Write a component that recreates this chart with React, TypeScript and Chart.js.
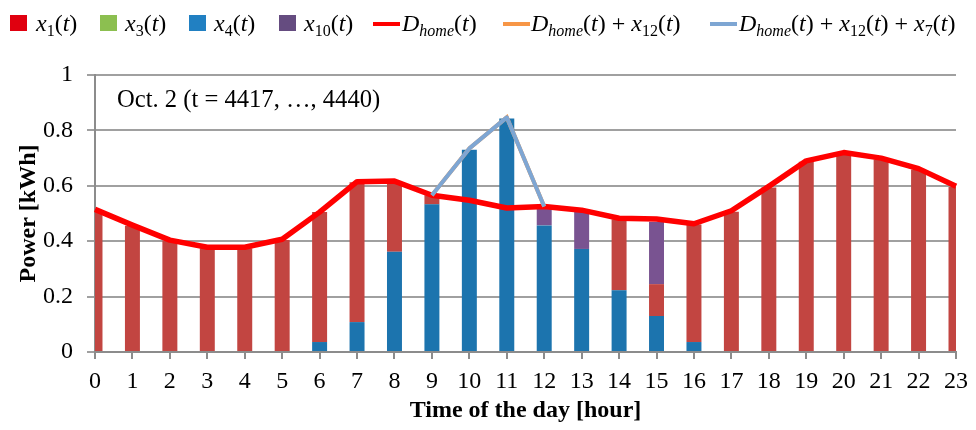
import React, { useEffect, useRef } from 'react';
import { Chart, registerables } from 'chart.js';

Chart.register(...registerables);

// ---- data ----
const hours = ['0','1','2','3','4','5','6','7','8','9','10','11','12','13','14','15','16','17','18','19','20','21','22','23'];
const yTickLabels = ['0', '0.2', '0.4', '0.6', '0.8', '1'];

const x1 = [0.512, 0.456, 0.402, 0.375, 0.375, 0.404, 0.469, 0.505, 0.25, 0.033, 0, 0, 0, 0, 0.256, 0.115, 0.424, 0.506, 0.594, 0.687, 0.717, 0.695, 0.659, 0.596];
const x3 = [0, 0, 0, 0, 0, 0, 0, 0, 0, 0, 0, 0, 0, 0, 0, 0, 0, 0, 0, 0, 0, 0, 0, 0];
const x4 = [0, 0, 0, 0, 0, 0, 0.036, 0.108, 0.362, 0.533, 0.73, 0.843, 0.457, 0.372, 0.223, 0.13, 0.036, 0, 0, 0, 0, 0, 0, 0];
const x10 = [0, 0, 0, 0, 0, 0, 0, 0, 0, 0, 0, 0, 0.066, 0.136, 0, 0.225, 0, 0, 0, 0, 0, 0, 0, 0];
const dHome = [0.515, 0.458, 0.404, 0.378, 0.378, 0.407, 0.505, 0.615, 0.617, 0.566, 0.548, 0.52, 0.525, 0.512, 0.483, 0.48, 0.463, 0.51, 0.598, 0.69, 0.72, 0.7, 0.662, 0.598];
const dHomeX12 = [null, null, null, null, null, null, null, null, null, 0.566, 0.735, 0.847, 0.525, null, null, null, null, null, null, null, null, null, null, null];
const dHomeX12X7 = [null, null, null, null, null, null, null, null, null, 0.566, 0.735, 0.847, 0.525, null, null, null, null, null, null, null, null, null, null, null];

const annotation = 'Oct. 2 (t = 4417, …, 4440)';

// ---- styles ----
const FONT = "'Liberation Serif', 'Times New Roman', serif";
const C_RED_BAR = '#C24541';
const C_GREEN_BAR = '#8CBF50';
const C_BLUE_BAR = '#1C74AE';
const C_PURPLE_BAR = '#795391';
const C_RED_LINE = '#FF0000';
const C_ORANGE_LINE = '#F79646';
const C_BLUE_LINE = '#7EA6D3';
const GRID = '#A0A0A0';
const AXIS = '#8C8C8C';

const It = ({ children }: any) => <span style={{ fontStyle: 'italic' }}>{children}</span>;
const Sub = ({ children, italic }: any) => (
  <span style={{ fontSize: 16, position: 'relative', top: 5, fontStyle: italic ? 'italic' : 'normal' }}>{children}</span>
);

const textStyle = (left: number, top: number, size = 24): React.CSSProperties => ({
  position: 'absolute', left, top, fontFamily: FONT, fontSize: size, lineHeight: '24px', color: '#000', whiteSpace: 'nowrap',
});

const Swatch = ({ left, color }: any) => (
  <div style={{ position: 'absolute', left, top: 15, width: 17, height: 16, background: color }} />
);
const LineMark = ({ left, color }: any) => (
  <div style={{ position: 'absolute', left, top: 22, width: 27, height: 4, background: color }} />
);

const DHomeText = () => (
  <>
    <It>D</It><Sub italic>home</Sub>(<It>t</It>)
  </>
);

export default function App() {
  const canvasRef = useRef<HTMLCanvasElement | null>(null);

  useEffect(() => {
    const ctx = canvasRef.current!;
    const barCommon = { type: 'bar' as const, stack: 'bars', borderWidth: 0, categoryPercentage: 1, barPercentage: 0.4, clip: 0 };
    const chart = new Chart(ctx, {
      type: 'bar',
      data: {
        labels: hours,
        datasets: [
          { ...barCommon, label: 'x4(t)', data: x4, backgroundColor: C_BLUE_BAR, order: 10 },
          { ...barCommon, label: 'x1(t)', data: x1, backgroundColor: C_RED_BAR, order: 11 },
          { ...barCommon, label: 'x3(t)', data: x3, backgroundColor: C_GREEN_BAR, order: 12 },
          { ...barCommon, label: 'x10(t)', data: x10, backgroundColor: C_PURPLE_BAR, order: 13 },
          { type: 'line', label: 'Dhome(t)', data: dHome, stack: 'l1', borderColor: C_RED_LINE, borderWidth: 5.5, pointRadius: 0, tension: 0, order: 2, borderJoinStyle: 'round' } as any,
          { type: 'line', label: 'Dhome(t) + x12(t)', data: dHomeX12, stack: 'l2', borderColor: C_ORANGE_LINE, borderWidth: 4, pointRadius: 0, tension: 0, order: 1 } as any,
          { type: 'line', label: 'Dhome(t) + x12(t) + x7(t)', data: dHomeX12X7, stack: 'l3', borderColor: C_BLUE_LINE, borderWidth: 4, pointRadius: 0, tension: 0, order: 0, borderJoinStyle: 'round' } as any,
        ],
      },
      options: {
        responsive: false,
        animation: false,
        events: [],
        layout: { padding: { top: 75, right: 15, left: 0, bottom: 0 } },
        plugins: { legend: { display: false }, tooltip: { enabled: false } },
        scales: {
          x: {
            type: 'category',
            stacked: true,
            offset: false,
            grid: { offset: false, drawOnChartArea: false, drawTicks: true, tickLength: 7, color: AXIS, lineWidth: 2 },
            border: { display: true, color: AXIS, width: 2 },
            ticks: { color: '#000', font: { family: FONT, size: 24 }, padding: 8, maxRotation: 0, autoSkip: false },
            title: { display: true, text: 'Time of the day [hour]', color: '#000', font: { family: FONT, size: 24, weight: 'bold' }, padding: { top: 0, bottom: 5 } },
            afterFit: (s: any) => { s.height = 78; },
          },
          y: {
            stacked: true,
            min: 0,
            max: 1,
            grid: { color: GRID, lineWidth: 2, tickLength: 8, drawTicks: true },
            border: { display: true, color: AXIS, width: 2 },
            ticks: { stepSize: 0.2, color: '#000', font: { family: FONT, size: 24 }, padding: 14, callback: (_v: any, i: number) => yTickLabels[i] },
            title: { display: true, text: 'Power [kWh]', color: '#000', font: { family: FONT, size: 24, weight: 'bold' }, padding: { top: 14, bottom: 0 } },
            afterFit: (s: any) => { s.width = 95; },
          },
        },
      } as any,
    });
    return () => chart.destroy();
  }, []);

  return (
    <div style={{ position: 'absolute', left: 0, top: 0, width: 976, height: 430, background: '#fff' }}>
      <canvas ref={canvasRef} width={976} height={430} style={{ position: 'absolute', left: 0, top: 0 }} />
      <Swatch left={10} color="#E0000F" />
      <div style={textStyle(36, 11)}><It>x</It><Sub>1</Sub>(<It>t</It>)</div>
      <Swatch left={100} color="#8CBF50" />
      <div style={textStyle(125, 11)}><It>x</It><Sub>3</Sub>(<It>t</It>)</div>
      <Swatch left={189} color="#2180C2" />
      <div style={textStyle(214, 11)}><It>x</It><Sub>4</Sub>(<It>t</It>)</div>
      <Swatch left={279} color="#654C80" />
      <div style={textStyle(304, 11)}><It>x</It><Sub>10</Sub>(<It>t</It>)</div>
      <LineMark left={373} color={C_RED_LINE} />
      <div style={textStyle(402, 11)}><DHomeText /></div>
      <LineMark left={503} color={C_ORANGE_LINE} />
      <div style={textStyle(531, 11)}><DHomeText /> + <It>x</It><Sub>12</Sub>(<It>t</It>)</div>
      <LineMark left={710} color={C_BLUE_LINE} />
      <div style={textStyle(739, 11)}><DHomeText /> + <It>x</It><Sub>12</Sub>(<It>t</It>) + <It>x</It><Sub>7</Sub>(<It>t</It>)</div>
      <div style={textStyle(117, 87, 24.6)}>{annotation}</div>
    </div>
  );
}
